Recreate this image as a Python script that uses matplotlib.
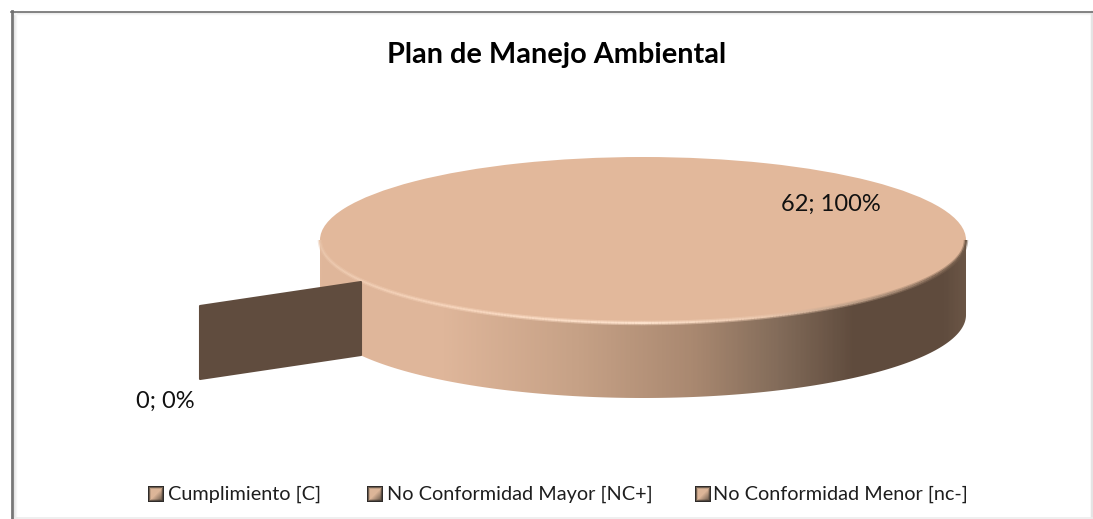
import numpy as np
import matplotlib
matplotlib.use('Agg')
import matplotlib.pyplot as plt
from matplotlib.colors import LinearSegmentedColormap
from matplotlib.patches import Polygon
from matplotlib.transforms import Affine2D
from matplotlib.collections import LineCollection

plt.rcParams['font.family'] = ['Lato', 'DejaVu Sans']

# --- DATA ---
categories = ['Cumplimiento [C]', 'No Conformidad Mayor [NC+]', 'No Conformidad Menor [nc-]']
counts = [62, 0, 0]
percents = [100, 0]

# --- GEOMETRY (pixels) ---
W, H = 1093, 519
cx, cy, rx, ry = 643, 240, 323, 83
depth = 75
TOP = '#e2b89b'
DARK = '#604c3e'

fig = plt.figure(figsize=(W / 100, H / 100), dpi=100, facecolor='white')
ax = fig.add_axes([0, 0, 1, 1])

# side wall of the pie, shaded left to right
t = np.linspace(0, np.pi, 200)
xs = cx - rx * np.cos(t)
upper = cy + ry * np.sin(t)
lower = upper + depth
verts = np.r_[np.c_[xs, upper], np.c_[xs[::-1], lower[::-1]]]
wall = Polygon(verts, closed=True, facecolor='none', edgecolor='none')
ax.add_patch(wall)
shade = LinearSegmentedColormap.from_list('shade', [
    (0.0, '#e0b79b'), (0.19, '#dfb69a'), (0.40, '#c6a186'), (0.58, '#a98870'),
    (0.71, '#836c5a'), (0.83, '#5f4b3d'), (0.97, '#604c3e'), (1.0, '#6a5545')])
img = ax.imshow(np.linspace(0, 1, 400)[None, :], cmap=shade, aspect='auto',
                extent=(cx - rx, cx + rx, cy + ry + depth, cy - ry), zorder=1)
img.set_clip_path(wall)

# top face
wedges, _ = ax.pie(counts, colors=[TOP, DARK, DARK], startangle=90, counterclock=False)
for w in wedges:
    w.set_transform(Affine2D().scale(rx, ry).translate(cx, cy) + ax.transData)
    w.set_zorder(2)
    w.set_edgecolor('none')

# bevel along the front rim, bright on the left and dark on the right
a = np.linspace(0, np.pi, 300)
ex = cx - rx * np.cos(a)
ey = cy + ry * np.sin(a)
segs = np.stack([np.c_[ex[:-1], ey[:-1]], np.c_[ex[1:], ey[1:]]], axis=1)
rim = LinearSegmentedColormap.from_list('rim', [
    (0.0, '#e8c3a8'), (0.3, '#f6d4bb'), (0.5, '#fde2cc'), (0.62, '#ecc9af'),
    (0.74, '#b89a83'), (0.86, '#846a57'), (1.0, '#64503f')])
rim_cols = rim(np.linspace(0, 1, len(segs)))
ax.add_collection(LineCollection(segs, colors=rim_cols, linewidth=3.2, alpha=0.45, zorder=3))
ax.add_collection(LineCollection(segs, colors=rim_cols, linewidth=1.4, zorder=3))

# cut face of the exploded zero slice
ax.add_patch(Polygon([(200, 306), (361, 282), (361, 355), (200, 379)], closed=True,
                     facecolor=DARK, edgecolor=DARK, lw=1.5, joinstyle='round', zorder=4))

# data labels
ax.text(831, 204, f'{counts[0]}; {percents[0]}%', fontsize=17, ha='center', va='center', color='#111111', zorder=5)
ax.text(165, 401, f'{counts[1]}; {percents[1]}%', fontsize=17, ha='center', va='center', color='#111111', zorder=5)

ax.text(556.5, 55, 'Plan de Manejo Ambiental', fontsize=20.8, fontweight='bold', ha='center', va='center', color='black', zorder=5)

# legend keys have a dark border around a lighter centre
yy, xx = np.mgrid[-1:1:16j, -1:1:16j]
key = np.clip((1 - np.maximum(np.abs(xx), np.abs(yy))) * 3.2, 0, 1)
key = key * np.clip(1.0 - 0.35 * (xx + yy), 0.3, 1)
swatch = LinearSegmentedColormap.from_list('swatch', ['#2e2b29', '#7a6656', '#dcb598'])
for name, sx, tx in zip(categories, [148, 367, 695], [168, 387, 713]):
    ax.imshow(key, cmap=swatch, aspect='auto', vmin=0, vmax=1, interpolation='nearest',
              extent=(sx, sx + 16, 502, 486), zorder=5)
    ax.text(tx, 494.5, name, fontsize=14.3, ha='left', va='center', color='#1e1e1e', zorder=5)

# chart frame with a soft inner shadow on the top and left
for i, g in enumerate(['#e4e4e4', '#ececec', '#f5f5f5']):
    ax.plot([12.5 + i + 1] * 2, [12, H], color=g, lw=1, zorder=6)
    ax.plot([13, W], [12.5 + i * 0.9] * 2, color=g, lw=1, zorder=6)
ax.plot([11.5, 11.5], [11, H], color='#777777', lw=2, zorder=7)
ax.plot([11, W], [11.5, 11.5], color='#6e6e6e', lw=1.2, zorder=7)
ax.plot([1091.5, 1091.5], [12, H], color='#e4e4e4', lw=2.5, zorder=6)
ax.plot([12, W], [517.5, 517.5], color='#ececec', lw=1.2, zorder=6)

ax.set_aspect('auto')
ax.set_xlim(0, W)
ax.set_ylim(H, 0)
ax.axis('off')
fig.savefig('out.png', dpi=100, facecolor='white')
